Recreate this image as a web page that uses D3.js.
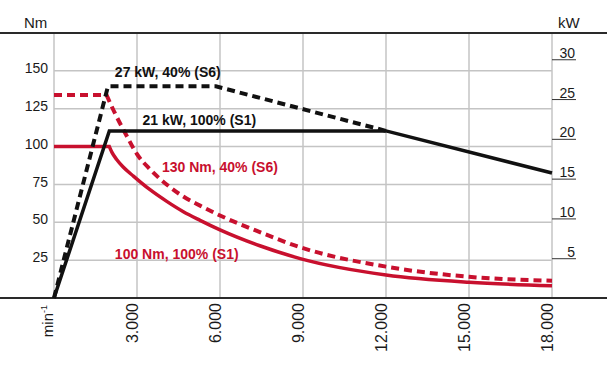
<!DOCTYPE html>
<html>
<head>
<meta charset="utf-8">
<script src="https://cdn.jsdelivr.net/npm/d3@7"></script>
<style>
    body { margin: 0; background: #fff; }
    svg text { font-family: "Liberation Sans", Arial, sans-serif; fill: #1a1a1a; }
    .grid line { stroke: #c4c4c4; stroke-width: 1.5; }
    .frame { stroke: #2a2a2a; stroke-width: 2; }
    .kw.axis line { stroke: #333; stroke-width: 1; }
    .curve { fill: none; stroke-linejoin: miter; }
</style>
</head>
<body>
<script>

// ticks
var rpmTicks = [0, 3000, 6000, 9000, 12000, 15000, 18000];
var nmTicks = [25, 50, 75, 100, 125, 150];
var kwTicks = [5, 10, 15, 20, 25, 30];

// power curves (rpm, kW)
var powerS1Rpm = [0, 2000, 12000, 18000];
var powerS1Kw  = [0, 21, 21, 15.7];
var powerS6Rpm = [0, 1950, 5850, 12000];
var powerS6Kw  = [0, 26.6, 26.6, 21];

// torque curves (rpm, Nm)
var torqueS1Rpm = [0, 2000, 2100, 2265, 2500, 2870, 3470, 4075, 4675, 5280, 6000, 7440, 8900, 12000, 15000, 18000];
var torqueS1Nm  = [100, 100, 96, 91.5, 86.5, 80.5, 71.5, 63.8, 57, 51.3, 45, 34.5, 26, 15.2, 10.4, 8.1];
var torqueS6Rpm = [0, 1900, 2150, 2630, 3000, 3470, 4070, 4675, 5280, 6000, 7440, 8900, 12000, 15000, 18000];
var torqueS6Nm  = [134, 134, 124, 107, 95, 85, 75, 67, 61, 54.5, 43.5, 33.5, 20.7, 14, 11.4];

var labels = [
    { text: "27 kW, 40% (S6)", rpm: 2200, nm: 146, color: "#111" },
    { text: "21 kW, 100% (S1)", rpm: 3200, nm: 114, color: "#111" },
    { text: "130 Nm, 40% (S6)", rpm: 3900, nm: 83, color: "#c8102e" },
    { text: "100 Nm, 100% (S1)", rpm: 2200, nm: 26, color: "#c8102e" }
];

var red = "#c8102e", black = "#111";

var dim = { width: 607, height: 370, top: 33, bottom: 298, left: 54, right: 552 };

var x = d3.scaleLinear().domain([0, 18000]).range([dim.left, dim.right]);
var yNm = d3.scaleLinear().domain([0, 175]).range([dim.bottom, dim.top]);
var yKw = d3.scaleLinear().domain([0, 33.3]).range([dim.bottom, dim.top]);

var de = d3.formatLocale({ decimal: ",", thousands: ".", grouping: [3], currency: ["", " €"] });
var fmt = de.format(",");

var svg = d3.select("body").append("svg")
        .attr("width", dim.width)
        .attr("height", dim.height);

// grid
var grid = svg.append("g").attr("class", "grid");
grid.selectAll("line.h").data(nmTicks).enter()
    .append("line")
        .attr("class", "h")
        .attr("x1", dim.left).attr("x2", dim.right)
        .attr("y1", function(d) { return yNm(d); })
        .attr("y2", function(d) { return yNm(d); });
grid.selectAll("line.v").data(rpmTicks).enter()
    .append("line")
        .attr("class", "v")
        .attr("x1", function(d) { return x(d); })
        .attr("x2", function(d) { return x(d); })
        .attr("y1", dim.top).attr("y2", dim.bottom);

// left axis (Nm)
var nmAxis = d3.axisLeft(yNm).tickValues(nmTicks).tickSize(0).tickPadding(6);
svg.append("g")
        .attr("class", "nm axis")
        .attr("transform", "translate(" + dim.left + ",0)")
        .call(nmAxis)
        .call(function(g) { g.select(".domain").remove(); })
        .selectAll("text")
            .attr("dy", "0.12em")
            .style("font-size", "14px");

// right axis (kW), underlined tick labels
var kwAxis = d3.axisRight(yKw).tickValues(kwTicks).tickSize(24).tickPadding(0);
svg.append("g")
        .attr("class", "kw axis")
        .attr("transform", "translate(" + dim.right + ",0)")
        .call(kwAxis)
        .call(function(g) { g.select(".domain").remove(); })
        .selectAll("text")
            .attr("x", 23)
            .attr("dy", "-2")
            .style("text-anchor", "end")
            .style("font-size", "14px");

// x labels, rotated
svg.append("g")
        .attr("class", "x labels")
    .selectAll("text").data(rpmTicks.slice(1)).enter()
    .append("text")
        .attr("transform", function(d) { return "translate(" + (x(d) + 0.5) + ",303) rotate(-90)"; })
        .style("text-anchor", "end")
        .style("font-size", "16px")
        .text(function(d) { return fmt(d); });

var unitX = svg.append("text")
        .attr("transform", "translate(" + (x(0) - 1.5) + ",305) rotate(-90)")
        .style("text-anchor", "end")
        .style("font-size", "15px");
unitX.append("tspan").text("min");
unitX.append("tspan").attr("dy", "-6").style("font-size", "9px").text("-1");

svg.append("text")
        .attr("x", 24).attr("y", 28)
        .style("font-size", "15px")
        .text("Nm");
svg.append("text")
        .attr("x", 558).attr("y", 28)
        .style("font-size", "15px")
        .text("kW");

// frame lines
svg.append("line").attr("class", "frame")
        .attr("x1", 0).attr("x2", dim.width)
        .attr("y1", dim.top).attr("y2", dim.top);
svg.append("line").attr("class", "frame")
        .attr("x1", 0).attr("x2", dim.width)
        .attr("y1", dim.bottom).attr("y2", dim.bottom);

function zip(a, b) { return a.map(function(v, i) { return [v, b[i]]; }); }

var kwLine = d3.line()
        .x(function(d) { return x(d[0]); })
        .y(function(d) { return yKw(d[1]); });
var nmLine = d3.line()
        .x(function(d) { return x(d[0]); })
        .y(function(d) { return yNm(d[1]); });
var nmCurve = d3.line()
        .curve(d3.curveMonotoneX)
        .x(function(d) { return x(d[0]); })
        .y(function(d) { return yNm(d[1]); });

// torque: flat part straight, then the falling curve
function torquePath(rpm, nm) {
    var pts = zip(rpm, nm);
    var flat = nmLine(pts.slice(0, 2));
    var fall = nmCurve(pts.slice(1)).replace(/^M[^A-Za-z]*/, "");
    return flat + fall;
}

var curves = svg.append("g").attr("class", "curves");

curves.append("path").attr("class", "curve")
        .attr("d", torquePath(torqueS6Rpm, torqueS6Nm))
        .attr("stroke", red).attr("stroke-width", 4)
        .attr("stroke-dasharray", "8,5");
curves.append("path").attr("class", "curve")
        .attr("d", torquePath(torqueS1Rpm, torqueS1Nm))
        .attr("stroke", red).attr("stroke-width", 3.5);
curves.append("path").attr("class", "curve")
        .attr("d", kwLine(zip(powerS6Rpm, powerS6Kw)))
        .attr("stroke", black).attr("stroke-width", 4)
        .attr("stroke-dasharray", "8,5");
curves.append("path").attr("class", "curve")
        .attr("d", kwLine(zip(powerS1Rpm, powerS1Kw)))
        .attr("stroke", black).attr("stroke-width", 3.5);

svg.append("g").attr("class", "curve-labels")
    .selectAll("text").data(labels).enter()
    .append("text")
        .attr("x", function(d) { return x(d.rpm); })
        .attr("y", function(d) { return yNm(d.nm); })
        .style("font-size", "14px")
        .style("font-weight", "bold")
        .style("fill", function(d) { return d.color; })
        .text(function(d) { return d.text; });

</script>
</body>
</html>
